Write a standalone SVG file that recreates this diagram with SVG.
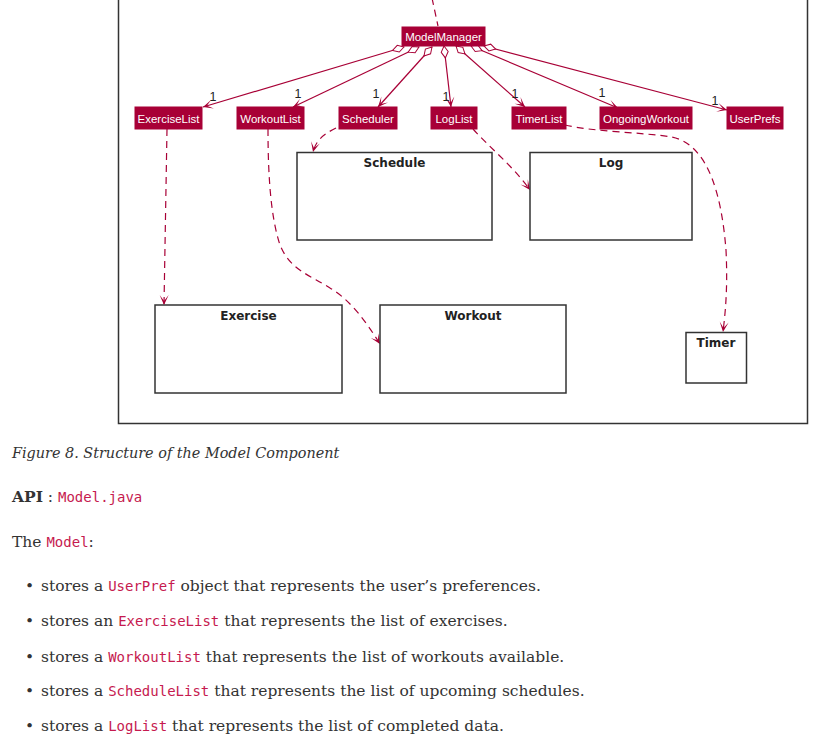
<svg xmlns="http://www.w3.org/2000/svg" width="821" height="736" viewBox="0 0 821 736">
<style>
.node rect{fill:#A80036;stroke:#A80036;stroke-width:1}
.node text{fill:#fff;font-family:"Liberation Sans",Arial,sans-serif;font-size:11.5px;text-anchor:middle}
.pkg rect{fill:#fff;stroke:#333;stroke-width:1.5}
.pkg text{fill:#222;font-family:"DejaVu Sans",sans-serif;font-weight:bold;font-size:12px;text-anchor:middle}
.agg{stroke:#A80036;stroke-width:1.2;fill:none;marker-start:url(#dia);marker-end:url(#arr)}
.dep{stroke:#A80036;stroke-width:1.2;fill:none;stroke-dasharray:7,5;marker-end:url(#arr)}
.mult{fill:#222;font-family:"Liberation Sans",Arial,sans-serif;font-size:12.5px;text-anchor:middle}
.body{fill:#333;font-family:"DejaVu Serif",serif;font-size:15.5px}
.code{fill:#c61a4f;font-family:"DejaVu Sans Mono",monospace;font-size:14px}
</style>
<defs>
<marker id="arr" viewBox="-11 -5 12 10" refX="0" refY="0" markerWidth="12" markerHeight="10" orient="auto" markerUnits="userSpaceOnUse">
<path d="M0,0 L-10,-4.5 L-4,0 L-10,4.5 Z" fill="#A80036"/>
</marker>
<marker id="dia" viewBox="-1 -5 14 10" refX="0" refY="0" markerWidth="14" markerHeight="10" orient="auto" markerUnits="userSpaceOnUse">
<path d="M0,0 L6,-3.5 L12,0 L6,3.5 Z" fill="#fff" stroke="#A80036" stroke-width="1"/>
</marker>
</defs>
<rect width="821" height="736" fill="#fff"/>
<rect id="frame" x="118.5" y="-20" width="689" height="443.5" fill="none" stroke="#333" stroke-width="1.5"/>

<g id="connectors">
<path class="dep" d="M432,-2 L438,26" style="marker-end:none"/>
<path class="agg" d="M404,47 L203,107"/>
<path class="agg" d="M419,47 L293,107"/>
<path class="agg" d="M432,47 L378,107"/>
<path class="agg" d="M444,46 L451,107"/>
<path class="agg" d="M456,46 L525,107"/>
<path class="agg" d="M471,46 L618,108"/>
<path class="agg" d="M484,46 L727,110"/>
<path class="dep" d="M167,129 L164,305"/>
<path class="dep" d="M268,129 C268,170 270,215 280,245 C290,270 310,275 330,288 C350,300 365,320 380,344"/>
<path class="dep" d="M336,128 C324,134 316,140 313,152"/>
<path class="dep" d="M473,129 C490,148 512,165 530,190"/>
<path class="dep" d="M565,125 C595,132 640,132 672,137 C710,145 722,200 726,250 C728,290 725,315 723,332"/>
<text class="mult" x="213" y="101">1</text>
<text class="mult" x="298" y="98">1</text>
<text class="mult" x="376" y="98">1</text>
<text class="mult" x="446" y="101">1</text>
<text class="mult" x="515" y="98">1</text>
<text class="mult" x="602" y="97">1</text>
<text class="mult" x="715" y="105">1</text>
</g>

<g id="ModelManager" class="node"><rect x="402" y="27" width="83" height="19"/><text x="443.5" y="41">ModelManager</text></g>
<g id="ExerciseList" class="node"><rect x="135" y="107" width="67" height="22"/><text x="168.5" y="122.5">ExerciseList</text></g>
<g id="WorkoutList" class="node"><rect x="237" y="107" width="67" height="22"/><text x="270.5" y="122.5">WorkoutList</text></g>
<g id="Scheduler" class="node"><rect x="339" y="107" width="58" height="22"/><text x="368" y="122.5">Scheduler</text></g>
<g id="LogList" class="node"><rect x="431" y="107" width="46" height="22"/><text x="454" y="122.5">LogList</text></g>
<g id="TimerList" class="node"><rect x="512" y="107" width="54" height="22"/><text x="539" y="122.5">TimerList</text></g>
<g id="OngoingWorkout" class="node"><rect x="600" y="107" width="92" height="22"/><text x="646" y="122.5">OngoingWorkout</text></g>
<g id="UserPrefs" class="node"><rect x="727" y="107" width="56" height="22"/><text x="755" y="122.5">UserPrefs</text></g>

<g id="Schedule" class="pkg"><rect x="297" y="152.5" width="195" height="87.5"/><text x="394.5" y="167">Schedule</text></g>
<g id="Log" class="pkg"><rect x="530" y="152.5" width="162" height="87.5"/><text x="611" y="167">Log</text></g>
<g id="Exercise" class="pkg"><rect x="155" y="305" width="187" height="88"/><text x="248.5" y="320">Exercise</text></g>
<g id="Workout" class="pkg"><rect x="380" y="305" width="186" height="88"/><text x="473" y="320">Workout</text></g>
<g id="Timer" class="pkg"><rect x="686" y="332.5" width="60.5" height="50.5"/><text x="716" y="347">Timer</text></g>

<g id="doc">
<text class="body" x="12" y="458" font-style="italic" style="font-size:14.4px">Figure 8. Structure of the Model Component</text>
<text class="body" x="12" y="502"><tspan font-weight="bold">API</tspan> : <tspan class="code">Model.java</tspan></text>
<text class="body" x="12" y="547">The <tspan class="code">Model</tspan>:</text>
<text class="body" x="25" y="591">•</text>
<text class="body" x="41" y="591">stores a <tspan class="code">UserPref</tspan> object that represents the user’s preferences.</text>
<text class="body" x="25" y="626">•</text>
<text class="body" x="41" y="626">stores an <tspan class="code">ExerciseList</tspan> that represents the list of exercises.</text>
<text class="body" x="25" y="662">•</text>
<text class="body" x="41" y="662">stores a <tspan class="code">WorkoutList</tspan> that represents the list of workouts available.</text>
<text class="body" x="25" y="696">•</text>
<text class="body" x="41" y="696">stores a <tspan class="code">ScheduleList</tspan> that represents the list of upcoming schedules.</text>
<text class="body" x="25" y="731">•</text>
<text class="body" x="41" y="731">stores a <tspan class="code">LogList</tspan> that represents the list of completed data.</text>
</g>
</svg>
